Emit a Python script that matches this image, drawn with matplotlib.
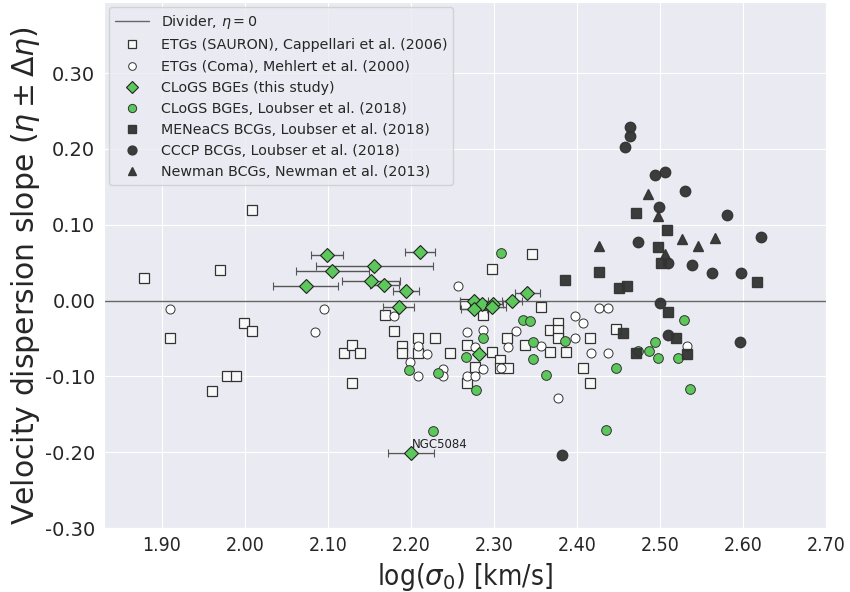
import matplotlib
matplotlib.use('Agg')
import matplotlib.pyplot as plt
import seaborn as sns

sns.set_style('darkgrid')

# ETGs (SAURON), Cappellari et al. (2006)
sauron_x = [2.009, 1.878, 1.970, 1.910, 1.999, 2.009, 1.979, 1.989, 1.960, 2.119,
            2.129, 2.139, 2.129, 2.169, 2.179, 2.189, 2.189, 2.209, 2.229, 2.209,
            2.247, 2.267, 2.277, 2.267, 2.297, 2.307, 2.307, 2.287, 2.316, 2.356,
            2.337, 2.367, 2.377, 2.367, 2.377, 2.377, 2.387, 2.416, 2.407, 2.416,
            2.447, 2.346, 2.297, 2.265, 2.317]
sauron_y = [0.120, 0.030, 0.040, -0.050, -0.030, -0.040, -0.100, -0.100, -0.119, -0.069,
            -0.059, -0.069, -0.109, -0.019, -0.040, -0.060, -0.069, -0.050, -0.050, -0.069,
            -0.069, -0.059, -0.088, -0.109, -0.068, -0.079, -0.089, -0.019, -0.049, -0.009,
            -0.059, -0.068, -0.029, -0.039, -0.039, -0.050, -0.068, -0.049, -0.089, -0.109,
            -0.038, 0.061, 0.041, -0.005, -0.089]

# ETGs (Coma), Mehlert et al. (2000)
coma_x = [1.910, 2.095, 2.085, 2.179, 2.209, 2.219, 2.199, 2.209, 2.239, 2.239,
          2.267, 2.287, 2.277, 2.287, 2.267, 2.277, 2.308, 2.317, 2.257, 2.327,
          2.356, 2.397, 2.407, 2.397, 2.427, 2.437, 2.417, 2.437, 2.377, 2.532]
coma_y = [-0.011, -0.011, -0.041, -0.021, -0.060, -0.071, -0.081, -0.100, -0.090, -0.100,
          -0.041, -0.039, -0.061, -0.090, -0.100, -0.100, -0.089, -0.061, 0.019, -0.040,
          -0.060, -0.020, -0.030, -0.050, -0.010, -0.010, -0.069, -0.069, -0.128, -0.060]

# CLoGS BGEs (this study)
bge_x = [2.099, 2.156, 2.105, 2.073, 2.152, 2.168, 2.194, 2.185, 2.211, 2.276,
         2.285, 2.299, 2.322, 2.276, 2.298, 2.340, 2.282, 2.200]
bge_y = [0.060, 0.046, 0.039, 0.019, 0.026, 0.020, 0.013, -0.008, 0.064, 0.000,
         -0.004, -0.004, -0.001, -0.011, -0.009, 0.010, -0.071, -0.201]
bge_xerr = [0.019, 0.070, 0.044, 0.039, 0.035, 0.017, 0.016, 0.019, 0.018, 0.017,
            0.012, 0.012, 0.012, 0.016, 0.017, 0.015, 0.004, 0.028]

# CLoGS BGEs, Loubser et al. (2018)
clogs_x = [2.198, 2.232, 2.287, 2.266, 2.278, 2.227, 2.308, 2.335, 2.343, 2.347,
           2.386, 2.347, 2.362, 2.447, 2.435, 2.529, 2.494, 2.473, 2.487, 2.497,
           2.522, 2.536]
clogs_y = [-0.092, -0.095, -0.050, -0.074, -0.118, -0.172, 0.063, -0.025, -0.027, -0.054,
           -0.053, -0.077, -0.098, -0.089, -0.171, -0.026, -0.055, -0.066, -0.067, -0.076,
           -0.076, -0.117]

# MENeaCS BCGs, Loubser et al. (2018)
meneacs_x = [2.471, 2.508, 2.497, 2.501, 2.617, 2.427, 2.451, 2.460, 2.509, 2.455,
             2.519, 2.471, 2.532, 2.385]
meneacs_y = [0.116, 0.093, 0.071, 0.049, 0.024, 0.038, 0.017, 0.019, -0.015, -0.043,
             -0.049, -0.069, -0.070, 0.027]

# CCCP BCGs, Loubser et al. (2018)
cccp_x = [2.464, 2.464, 2.458, 2.494, 2.506, 2.530, 2.499, 2.581, 2.622, 2.473,
          2.509, 2.538, 2.562, 2.597, 2.500, 2.509, 2.596, 2.382]
cccp_y = [0.229, 0.217, 0.202, 0.165, 0.169, 0.144, 0.123, 0.113, 0.084, 0.077,
          0.049, 0.047, 0.036, 0.036, -0.003, -0.046, -0.054, -0.203]

# Newman BCGs, Newman et al. (2013)
newman_x = [2.486, 2.497, 2.526, 2.546, 2.566, 2.506, 2.427]
newman_y = [0.141, 0.111, 0.081, 0.072, 0.082, 0.062, 0.072]

labels = [r'Divider, $\eta = 0$',
          'ETGs (SAURON), Cappellari et al. (2006)',
          'ETGs (Coma), Mehlert et al. (2000)',
          'CLoGS BGEs (this study)',
          'CLoGS BGEs, Loubser et al. (2018)',
          'MENeaCS BCGs, Loubser et al. (2018)',
          'CCCP BCGs, Loubser et al. (2018)',
          'Newman BCGs, Newman et al. (2013)']

xticks = [1.90, 2.00, 2.10, 2.20, 2.30, 2.40, 2.50, 2.60, 2.70]
yticks = [-0.30, -0.20, -0.10, 0.00, 0.10, 0.20, 0.30]

green = '#5cc85c'
dark = '#333333'

fig = plt.figure(figsize=(8.5, 5.92), dpi=100)
ax = fig.add_axes([0.122, 0.108, 0.850, 0.889])

handles = []
handles.append(ax.axhline(0, color='#666666', lw=1.0, zorder=1))
handles.append(ax.plot(sauron_x, sauron_y, 's', ms=6.5, mfc='#f8f8f8', mec='#333333',
                       mew=0.9, zorder=3)[0])
handles.append(ax.plot(coma_x, coma_y, 'o', ms=6.5, mfc='white', mec='#333333',
                       mew=0.7, zorder=3)[0])
eb = ax.errorbar(bge_x, bge_y, xerr=bge_xerr, fmt='D', ms=7.5, mfc=green, mec='#222222',
                 mew=0.8, ecolor='#555555', elinewidth=1.0, capsize=3, capthick=1.0,
                 zorder=4)
handles.append(eb[0])
handles.append(ax.plot(clogs_x, clogs_y, 'o', ms=7, mfc=green, mec='#333333',
                       mew=0.7, zorder=3)[0])
handles.append(ax.plot(meneacs_x, meneacs_y, 's', ms=7.5, color=dark, alpha=0.95,
                       zorder=3)[0])
handles.append(ax.plot(cccp_x, cccp_y, 'o', ms=7.5, color=dark, alpha=0.95,
                       zorder=3)[0])
handles.append(ax.plot(newman_x, newman_y, '^', ms=7.5, color=dark, alpha=0.95,
                       zorder=3)[0])

ax.text(2.201, -0.199, 'NGC5084', fontsize=8.5, color='#222222', va='bottom', zorder=5)

ax.set_xlim(1.83, 2.70)
ax.set_ylim(-0.30, 0.394)
ax.set_xticks(xticks)
ax.set_yticks(yticks)
ax.set_xticklabels(['%.2f' % t for t in xticks], fontsize=14, fontstretch='condensed')
ax.set_yticklabels(['%.2f' % t for t in yticks], fontsize=14)
ax.tick_params(axis='both', length=0, pad=6)
ax.set_xlabel(r'log($\sigma_0$) [km/s]', fontsize=20, fontstretch='condensed')
ax.set_ylabel(r'Velocity dispersion slope ($\eta \pm \Delta\eta$)', fontsize=21.5)
ax.yaxis.set_label_coords(-0.085, 0.48)

ax.legend(handles, labels, loc='upper left', fontsize=10.3, frameon=True,
          framealpha=0.8, edgecolor='#cccccc', borderaxespad=0.4, handlelength=2.4,
          markerscale=0.85)

fig.savefig('out.png', dpi=100)
